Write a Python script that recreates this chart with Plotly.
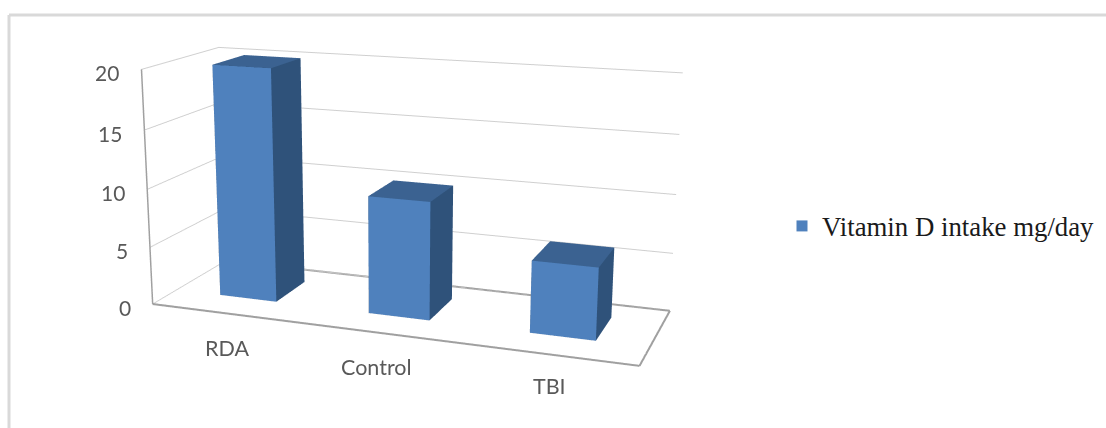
import plotly.graph_objects as go

# Chart data
categories = ["RDA", "Control", "TBI"]
values = [20, 10, 6]
z_ticks = [0, 5, 10, 15, 20]
series_name = "Vitamin D intake mg/day"

# Bar footprint inside the category / depth ranges
BAR_HALF_WIDTH = 0.1935
DEPTH_FRONT, DEPTH_BACK = 0.3116, 0.7472
X_RANGE = [-0.5, 2.5]
Y_RANGE = [0, 1]
Z_RANGE = [0, 20]

# The figure is taller than the window so the 45 degree lens gives a mild perspective;
# the page shifts it up by OFFSET so the plot stays centred in the view.
WIDTH, HEIGHT, VIEW_H = 1106, 1146, 428
OFFSET = HEIGHT / 2 - 214


def paper_y(pixel_y):
    return 1 - (pixel_y + OFFSET) / HEIGHT


FRONT_COLOR, TOP_COLOR, SIDE_COLOR = "#4F81BD", "#3B6291", "#2F527A"
FRAME_COLOR = "#a0a0a0"
GRID_COLOR = "#cfcfcf"
BORDER_COLOR = "#d9d9d9"
TEXT_COLOR = "#595959"

# Triangles of a box: bottom, top, front, right, back, left
I = [0, 0, 4, 4, 0, 0, 1, 1, 2, 2, 3, 3]
J = [1, 2, 5, 6, 1, 5, 2, 6, 3, 7, 0, 4]
K = [2, 3, 6, 7, 5, 4, 6, 5, 7, 6, 4, 7]
FACES = [SIDE_COLOR] * 2 + [TOP_COLOR] * 2 + [FRONT_COLOR] * 2 + [SIDE_COLOR] * 6

fig = go.Figure()
for i, val in enumerate(values):
    a, b = i - BAR_HALF_WIDTH, i + BAR_HALF_WIDTH
    fig.add_trace(go.Mesh3d(
        x=[a, b, b, a, a, b, b, a],
        y=[DEPTH_FRONT, DEPTH_FRONT, DEPTH_BACK, DEPTH_BACK] * 2,
        z=[0, 0, 0, 0, val, val, val, val],
        i=I, j=J, k=K, facecolor=FACES, flatshading=True,
        lighting=dict(ambient=1, diffuse=0, specular=0, fresnel=0, roughness=1),
        showlegend=False, hoverinfo="skip",
    ))

# Darker frame edges around the floor
x0, x1 = X_RANGE
y0, y1 = Y_RANGE
z0, z1 = Z_RANGE
for xs, ys, zs in [([x0, x1], [y0, y0], [z0, z0]),
                   ([x1, x1], [y0, y1], [z0, z0]),
                   ([x0, x1], [y1, y1], [z0, z0])]:
    fig.add_trace(go.Scatter3d(x=xs, y=ys, z=zs, mode="lines",
                               line=dict(color=FRAME_COLOR, width=4),
                               showlegend=False, hoverinfo="skip"))

# Legend entry with a plain square swatch
fig.add_trace(go.Scatter(x=[None], y=[None], mode="markers", name=series_name,
                         marker=dict(symbol="square", size=11, color=FRONT_COLOR)))

notes = [dict(x=x0, y=y0, z=t, text=str(t), showarrow=False, xanchor="right", yanchor="middle",
              xshift=-20, yshift=-3, font=dict(family="Lato", size=21, color=TEXT_COLOR))
         for t in z_ticks]
for i, (c, sx, sy) in enumerate(zip(categories, [1, -4, 0], [-35, -34, -32])):
    notes.append(dict(x=i, y=y0, z=z0, text=c, showarrow=False, xanchor="center", yanchor="middle",
                      xshift=sx, yshift=sy, font=dict(family="Lato", size=21.5, color=TEXT_COLOR)))

plain = dict(showticklabels=False, ticks="", title="", showbackground=False, zeroline=False)
fig.update_layout(
    width=WIDTH, height=HEIGHT, margin=dict(l=0, r=0, t=0, b=0),
    paper_bgcolor="white", plot_bgcolor="rgba(0,0,0,0)",
    xaxis=dict(visible=False), yaxis=dict(visible=False),
    scene=dict(
        domain=dict(x=[0, 0.7141], y=[0, 1]),
        xaxis=dict(range=X_RANGE, showgrid=False, showline=False, **plain),
        yaxis=dict(range=Y_RANGE, showgrid=False, showline=False, **plain),
        zaxis=dict(range=Z_RANGE, tickvals=z_ticks, showgrid=True, gridcolor=GRID_COLOR,
                   gridwidth=2, showline=True, linecolor=FRAME_COLOR, linewidth=3, **plain),
        annotations=notes,
        aspectmode="manual", aspectratio=dict(x=1.6, y=0.5216, z=0.7740),
        camera=dict(eye=dict(x=1.4429, y=-4.0183, z=1.0649),
                    center=dict(x=-0.0499, y=0, z=-0.0772),
                    up=dict(x=0, y=0, z=1),
                    projection=dict(type="perspective")),
    ),
    showlegend=True,
    legend=dict(x=782 / WIDTH, y=paper_y(226), yanchor="middle",
                font=dict(family="Liberation Serif", size=26.8, color="#1a1a1a")),
    shapes=[
        dict(type="line", xref="paper", yref="paper", x0=9 / WIDTH, x1=1,
             y0=paper_y(15), y1=paper_y(15), line=dict(color=BORDER_COLOR, width=3)),
        dict(type="line", xref="paper", yref="paper", x0=9 / WIDTH, x1=9 / WIDTH,
             y0=paper_y(15), y1=paper_y(VIEW_H), line=dict(color=BORDER_COLOR, width=3)),
    ],
)

shift_page = (
    "var g=document.getElementById('{plot_id}');"
    "g.style.position='absolute';g.style.left='0px';"
    f"g.style.top='{-OFFSET}px';"
    "document.documentElement.style.overflow='hidden';"
    "document.body.style.overflow='hidden';"
)
fig.write_html("out.html", post_script=shift_page)
